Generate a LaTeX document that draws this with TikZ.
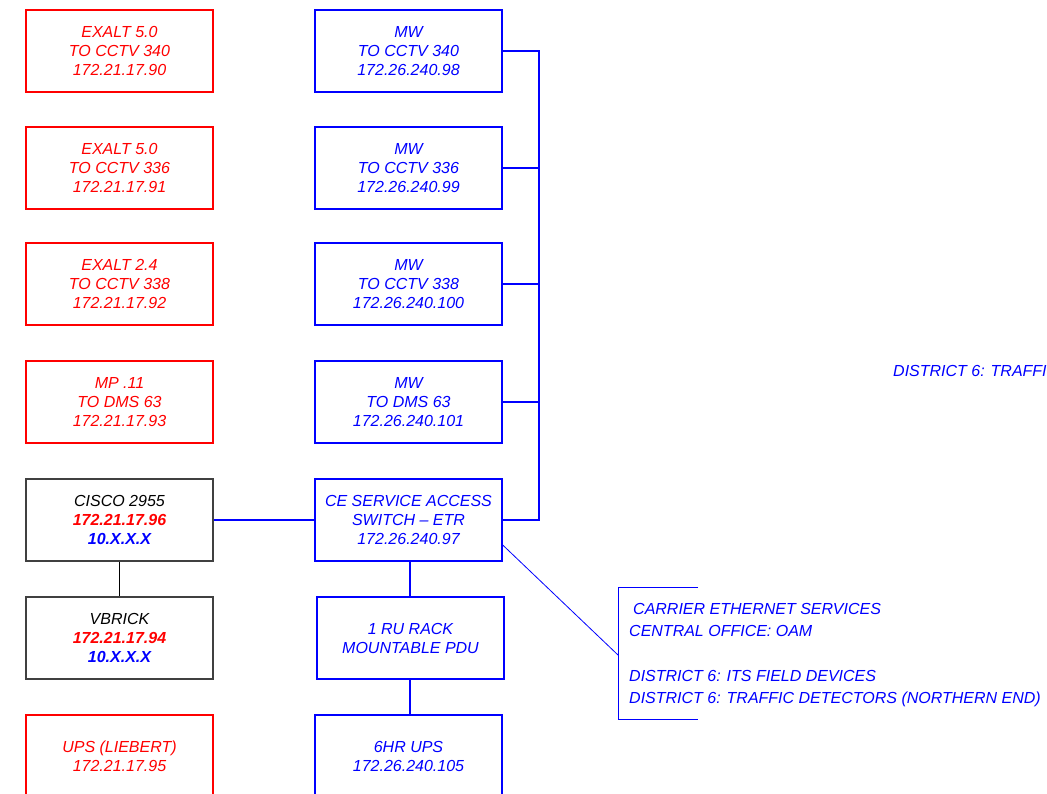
\documentclass[tikz,border=0pt]{standalone}
\usepackage{fontspec}
\setmainfont{Liberation Sans}
\usetikzlibrary{calc}
\definecolor{rd}{RGB}{255,0,0}
\definecolor{bl}{RGB}{0,0,255}
\begin{document}
\begin{tikzpicture}[x=1bp,y=-1bp,
  box/.style={draw,line width=1.6bp,minimum width=187bp,minimum height=82bp,inner sep=0pt,align=center,font=\fontsize{16bp}{19bp}\selectfont\itshape},
  redbox/.style={box,draw=rd,text=rd},
  bluebox/.style={box,draw=bl,text=bl},
  blackbox/.style={box,draw=black!75,line width=1.2bp,text=black},
  bus/.style={draw=bl,line width=2bp},
  thinblue/.style={draw=bl,line width=0.8bp},
  lbl/.style={text=bl,inner sep=0pt,font=\fontsize{16bp}{22.3bp}\selectfont\itshape}]
\clip (0,0) rectangle (1047,794);
% left column
\node[redbox] (e1) at (119.5,51) {EXALT 5.0\\TO CCTV 340\\172.21.17.90};
\node[redbox] (e2) at (119.5,168) {EXALT 5.0\\TO CCTV 336\\172.21.17.91};
\node[redbox] (e3) at (119.5,284) {EXALT 2.4\\TO CCTV 338\\172.21.17.92};
\node[redbox] (e4) at (119.5,402) {MP .11\\TO DMS 63\\172.21.17.93};
\node[blackbox] (cisco) at (119.5,520) {CISCO 2955\\\textcolor{rd}{\bfseries 172.21.17.96}\\\textcolor{bl}{\bfseries 10.X.X.X}};
\node[blackbox] (vbrick) at (119.5,638) {VBRICK\\\textcolor{rd}{\bfseries 172.21.17.94}\\\textcolor{bl}{\bfseries 10.X.X.X}};
\node[redbox] (ups1) at (119.5,756) {UPS (LIEBERT)\\172.21.17.95};
% middle column
\node[bluebox] (mw1) at (408.5,51) {MW\\TO CCTV 340\\172.26.240.98};
\node[bluebox] (mw2) at (408.5,168) {MW\\TO CCTV 336\\172.26.240.99};
\node[bluebox] (mw3) at (408.5,284) {MW\\TO CCTV 338\\172.26.240.100};
\node[bluebox] (mw4) at (408.5,402) {MW\\TO DMS 63\\172.26.240.101};
\node[bluebox] (ce) at (408.5,520) {CE SERVICE ACCESS\\SWITCH -- ETR\\172.26.240.97};
\node[bluebox] (pdu) at (410.5,638) {1 RU RACK\\MOUNTABLE PDU};
\node[bluebox] (ups2) at (408.5,756) {6HR UPS\\172.26.240.105};
% bus
\draw[bus] (mw1.east) -- ++(36,0) coordinate (b1) -- (b1 |- ce.east) -- (ce.east);
\draw[bus] (mw2.east) -- (b1 |- mw2.east);
\draw[bus] (mw3.east) -- (b1 |- mw3.east);
\draw[bus] (mw4.east) -- (b1 |- mw4.east);
\draw[bus] (cisco.east) -- (ce.west);
\draw[bus] (pdu.north -| 410,0) -- (410,0 |- ce.south);
\draw[bus] (pdu.south -| 410,0) -- (410,0 |- ups2.north);
\draw[draw=black,line width=1bp] (cisco.south) -- (vbrick.north);
% bracket
\coordinate (bt) at (698,587);
\coordinate (bb) at (698,719);
\coordinate (brk) at (618,655);
\draw[thinblue] (bt) -- (618,587) -- (618,719) -- (bb);
\draw[thinblue] ($(ce.north east)!0.8!(ce.south east)$) -- (brk);
\node[lbl,anchor=west,align=left] (notes) at (629,655) {\hspace{4bp}CARRIER ETHERNET SERVICES\\CENTRAL OFFICE: OAM\\[0pt]\mbox{}\\DISTRICT 6: ITS FIELD DEVICES\\DISTRICT 6: TRAFFIC DETECTORS (NORTHERN END)};
\node[lbl,anchor=west] (d6) at (893,371) {DISTRICT 6: TRAFFIC};
\end{tikzpicture}
\end{document}
